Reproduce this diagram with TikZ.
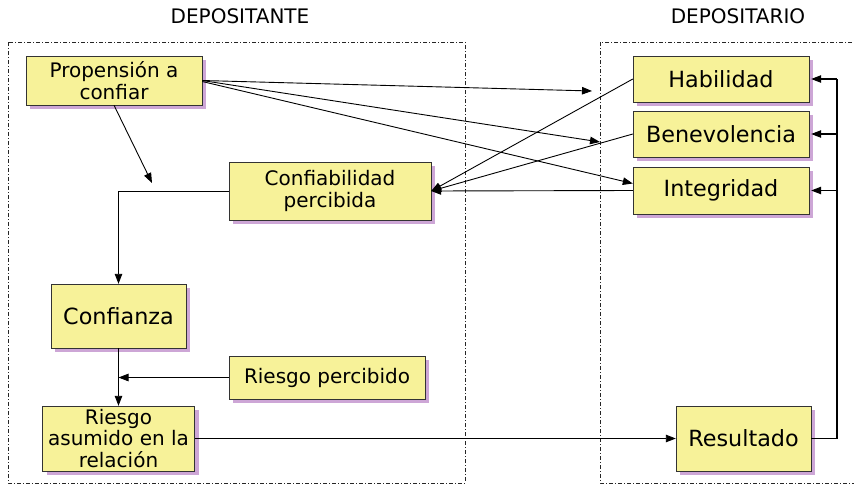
\documentclass[tikz,border=0pt]{standalone}
\usepackage{fontspec}
\setmainfont{DejaVu Sans}
\usetikzlibrary{arrows.meta,shadows,calc}

\definecolor{boxyellow}{HTML}{F7F299}
\definecolor{boxshadow}{HTML}{CDA6D6}

\tikzset{
    caja/.style={draw=black!80, fill=boxyellow, inner sep=0pt, align=center,
        drop shadow={shadow xshift=4pt, shadow yshift=-4pt, fill=boxshadow, opacity=1},
        font=\fontsize{20}{21.5}\selectfont},
    cajagrande/.style={caja, font=\fontsize{22.3}{24}\selectfont},
    zona/.style={draw=black!85, line width=0.6pt, dash pattern=on 4pt off 2pt on 1pt off 2pt},
    flecha/.style={draw=black, line width=0.9pt, -{Triangle[length=10pt,width=7.5pt]}},
    lazo/.style={draw=black, line width=1.6pt}
}

\begin{document}
\begin{tikzpicture}[x=1pt, y=-1pt]
    \useasboundingbox (0,0) rectangle (854,485);

    % zonas
    \draw[zona] (8,42) rectangle (465,483);
    \draw[zona] (600,42) rectangle (870,483);
    \node[font=\fontsize{20}{22}\selectfont] (tdep) at (240,16) {DEPOSITANTE};
    \node[font=\fontsize{20}{22}\selectfont] (tdpo) at (738,16) {DEPOSITARIO};

    % depositante
    \node[caja, minimum width=176, minimum height=49] (prop) at (114,80.5) {Propensión a\\confiar};
    \node[caja, minimum width=202, minimum height=58] (cperc) at (330,191) {Confiabilidad\\percibida};
    \node[cajagrande, minimum width=135, minimum height=64] (confz) at (118.5,316) {Confianza};
    \node[caja, minimum width=196, minimum height=43] (rperc) at (327,377.5) {Riesgo percibido};
    \node[caja, minimum width=152, minimum height=65] (rasum) at (118.5,438.5) {Riesgo\\asumido en la\\relación};

    % depositario
    \node[cajagrande, minimum width=176, minimum height=46] (hab) at (721,79) {Habilidad};
    \node[cajagrande, minimum width=176, minimum height=46] (ben) at (721,134) {Benevolencia};
    \node[cajagrande, minimum width=176, minimum height=47] (integ) at (721,190.5) {Integridad};
    \node[cajagrande, minimum width=135, minimum height=65] (result) at (743.5,438.5) {Resultado};

    % extremos libres
    \coordinate (pa) at (152,183);
    \coordinate (pb) at (592,91);
    \coordinate (pc) at (600,142);
    \coordinate (lp) at (837,438.5);

    % propension
    \draw[flecha] (prop.south) -- (pa);
    \draw[flecha] (prop.east) -- (pb);
    \draw[flecha] (prop.east) -- (pc);
    \draw[flecha] ($(prop.east)+(0,1)$) -- ($(integ.west)+(0,-7)$);

    % factores a confiabilidad
    \foreach \f in {hab, ben, integ}
        \draw[flecha] (\f.west) -- (cperc.east);

    \draw[flecha] (cperc.west) -| (confz.north);
    \draw[flecha] (confz.south) -- (rasum.north);
    \draw[flecha] (rperc.west) -- (rperc.west -| confz.south);
    \draw[flecha] (rasum.east) -- (result.west);

    % retroalimentacion
    \draw[lazo] (result.east) -- (lp) -- (lp |- hab.east);
    \foreach \f in {hab, ben, integ}
        \draw[flecha, line width=1.1pt] (lp |- \f.east) -- ($(\f.east)+(2,0)$);
\end{tikzpicture}
\end{document}
